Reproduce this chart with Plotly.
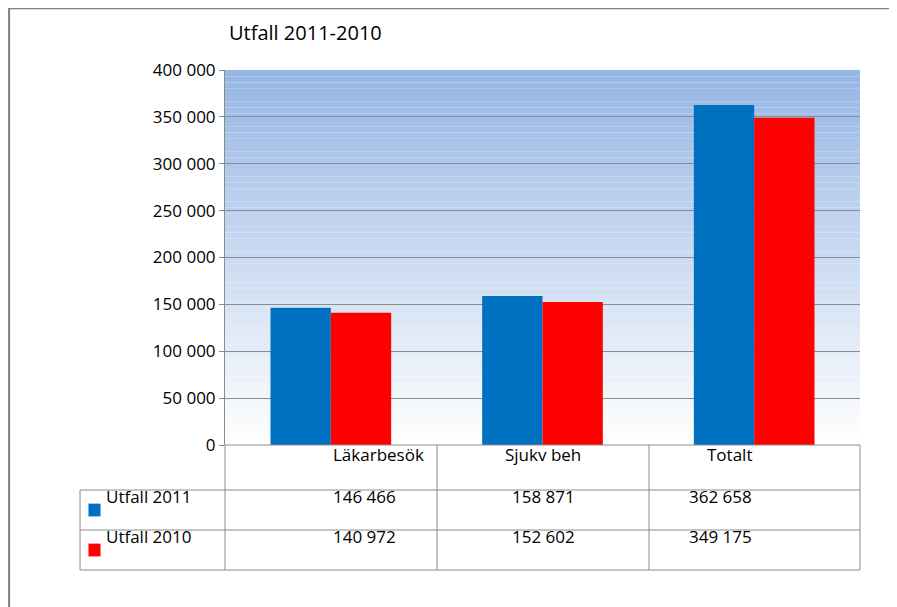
import plotly.graph_objects as go

categories = ["Läkarbesök", "Sjukv beh", "Totalt"]
series_names = ["Utfall 2011", "Utfall 2010"]
utfall_2011 = [146466, 158871, 362658]
utfall_2010 = [140972, 152602, 349175]
colors = ["#0070c0", "#ff0000"]

def fmt(v):
    return f"{v:,}".replace(",", " ")

fig = go.Figure()
for name, vals, c in zip(series_names, [utfall_2011, utfall_2010], colors):
    fig.add_trace(go.Bar(x=categories, y=vals, name=name, marker=dict(color=c, line=dict(width=0))))

shapes = []
# gradient background for plot area
n = 60
top, bot = (150, 183, 229), (255, 255, 255)
for i in range(n):
    t = i / (n - 1)
    col = tuple(int(top[k] + (bot[k] - top[k]) * t) for k in range(3))
    shapes.append(dict(type="rect", xref="paper", yref="paper", x0=0, x1=1,
                       y0=1 - (i + 1) / n, y1=1 - i / n, fillcolor=f"rgb{col}",
                       line=dict(width=0), layer="below"))

# data table
line = dict(color="#8c8c8c", width=1)
xs = [-0.2283, 0, 0.3339, 0.6677, 1]
ys = [0, -0.12, -0.2267, -0.3333]
for y in ys[1:]:
    shapes.append(dict(type="line", xref="paper", yref="paper", x0=xs[0], x1=1, y0=y, y1=y, line=line))
shapes.append(dict(type="line", xref="paper", yref="paper", x0=0, x1=1, y0=0, y1=0, line=line))
shapes.append(dict(type="line", xref="paper", yref="paper", x0=xs[0], x1=xs[0], y0=ys[1], y1=ys[3], line=line))
for x in xs[1:]:
    shapes.append(dict(type="line", xref="paper", yref="paper", x0=x, x1=x, y0=0, y1=ys[3], line=line))

annotations = []
font = dict(family="Open Sans", size=17, color="black")
for i, cat in enumerate(categories):
    xc = (xs[i + 1] + xs[i + 2]) / 2
    annotations.append(dict(x=xc, y=(ys[0] + ys[1]) / 2, xref="paper", yref="paper",
                            text=cat, showarrow=False, font=font))
    for r, vals in enumerate([utfall_2011, utfall_2010]):
        annotations.append(dict(x=xc, y=(ys[r + 1] + ys[r + 2]) / 2, xref="paper", yref="paper",
                                text=fmt(vals[i]), showarrow=False, font=font))
for r, (name, c) in enumerate(zip(series_names, colors)):
    yc = (ys[r + 1] + ys[r + 2]) / 2
    shapes.append(dict(type="rect", xref="paper", yref="paper", x0=-0.215, x1=-0.196,
                       y0=yc - 0.017, y1=yc + 0.017, fillcolor=c, line=dict(width=0)))
    annotations.append(dict(x=-0.19, y=yc, xref="paper", yref="paper", xanchor="left",
                            text=name, showarrow=False, font=font))

annotations.append(dict(x=220, y=22, xref="paper", yref="paper", text="Utfall 2011-2010",
                        showarrow=False, font=dict(family="Open Sans", size=20, color="black")))
annotations[-1].update(x=0.003, y=1.1, xanchor="left", yanchor="middle")

fig.update_layout(
    width=897, height=607,
    margin=dict(l=217, r=45, t=62, b=170),
    paper_bgcolor="white", plot_bgcolor="rgba(0,0,0,0)",
    separators=", ",
    barmode="group", bargap=0.43, bargroupgap=0,
    showlegend=False,
    shapes=shapes, annotations=annotations,
    xaxis=dict(showticklabels=False, showline=False, showgrid=False),
    yaxis=dict(range=[0, 400000], dtick=50000, tickformat=",d", showgrid=True,
               gridcolor="#8c8c8c", gridwidth=1, showline=True, linecolor="#8c8c8c",
               ticks="outside", ticklen=5, tickcolor="#8c8c8c", zeroline=False,
               tickfont=dict(family="Open Sans", size=17, color="black")),
)
fig.add_shape(type="rect", xref="paper", yref="paper", x0=-0.34, x1=1.07, y0=-0.45, y1=1.165,
              line=dict(color="#7f7f7f", width=2), fillcolor="rgba(0,0,0,0)")
fig.write_html("out.html")
